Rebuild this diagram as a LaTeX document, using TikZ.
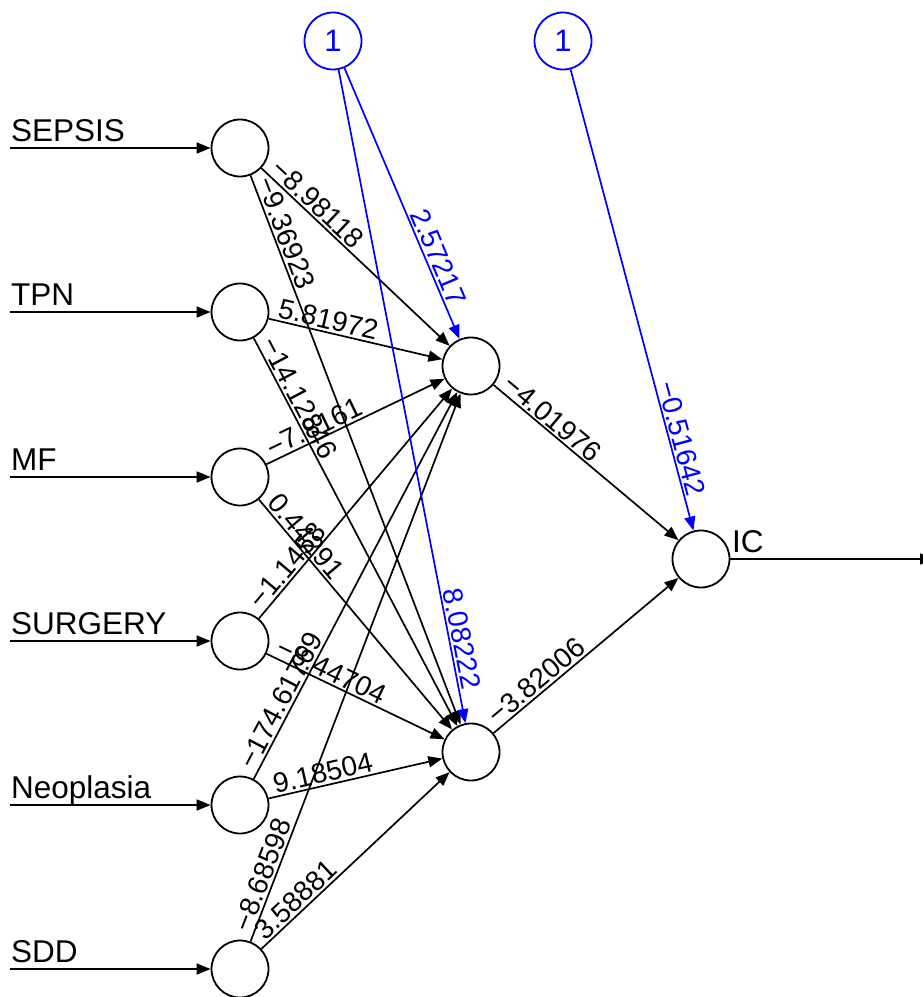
\documentclass[tikz,border=0pt]{standalone}
\usepackage{fontspec}
\setmainfont{Liberation Sans}
\usetikzlibrary{arrows.meta}
\begin{document}
\begin{tikzpicture}[x=1pt,y=-1pt,
  neuron/.style={circle, draw, line width=1.8pt, minimum size=57pt, inner sep=0pt},
  biasnode/.style={neuron, draw=blue, text=blue, font=\fontsize{31}{31}\selectfont},
  conn/.style={line width=1.7pt, -{Triangle[length=14pt,width=11pt]}},
  bconn/.style={conn, draw=blue},
  lab/.style={font=\fontsize{31.5}{31.5}\selectfont, inner sep=0pt},
  wlab/.style={sloped, anchor=south west, inner xsep=7pt, inner ysep=2pt, font=\fontsize{28}{28}\selectfont},
  blab/.style={sloped, anchor=south east, inner xsep=32pt, inner ysep=2pt, font=\fontsize{28}{28}\selectfont, text=blue}]
\useasboundingbox (0,0) rectangle (922,997);

% input neurons
\node[neuron] (i1) at (240,148) {};
\node[neuron] (i2) at (240,312) {};
\node[neuron] (i3) at (240,477) {};
\node[neuron] (i4) at (240,641) {};
\node[neuron] (i5) at (240,805) {};
\node[neuron] (i6) at (240,969) {};
% hidden and output
\node[neuron] (h1) at (471,366) {};
\node[neuron] (h2) at (471,752) {};
\node[neuron] (o) at (701,559) {};
% bias
\node[biasnode] (b1) at (333,41) {1};
\node[biasnode] (b2) at (563,41) {1};

% input lines and labels
\coordinate (s1) at (10,148);
\coordinate (s2) at (10,312);
\coordinate (s3) at (10,477);
\coordinate (s4) at (10,641);
\coordinate (s5) at (10,805);
\coordinate (s6) at (10,969);
\draw[conn] (s1) -- (i1);
\draw[conn] (s2) -- (i2);
\draw[conn] (s3) -- (i3);
\draw[conn] (s4) -- (i4);
\draw[conn] (s5) -- (i5);
\draw[conn] (s6) -- (i6);
\node[lab, anchor=base west] (t1) at (11,141) {SEPSIS};
\node[lab, anchor=base west] (t2) at (11,305) {TPN};
\node[lab, anchor=base west] (t3) at (11,470) {MF};
\node[lab, anchor=base west] (t4) at (11,634) {SURGERY};
\node[lab, anchor=base west] (t5) at (11,798) {Neoplasia};
\node[lab, anchor=base west] (t6) at (11,962) {SDD};

% input to hidden
\draw[conn] (i1) -- (h1) node[wlab, pos=0] {−8.98118};
\draw[conn] (i1) -- (h2) node[wlab, pos=0] {−9.36923};
\draw[conn] (i2) -- (h1) node[wlab, pos=0] {5.81972};
\draw[conn] (i2) -- (h2) node[wlab, pos=0] {−14.12846};
\draw[conn] (i3) -- (h1) node[wlab, pos=0] {−7.8161};
\draw[conn] (i3) -- (h2) node[wlab, pos=0] {0.44291};
\draw[conn] (i4) -- (h1) node[wlab, pos=0] {−1.1458};
\draw[conn] (i4) -- (h2) node[wlab, pos=0] {−8.44704};
\draw[conn] (i5) -- (h1) node[wlab, pos=0] {−174.61769};
\draw[conn] (i5) -- (h2) node[wlab, pos=0] {9.18504};
\draw[conn] (i6) -- (h1) node[wlab, pos=0] {−8.68598};
\draw[conn] (i6) -- (h2) node[wlab, pos=0] {3.58881};

% hidden to output
\draw[conn] (h1) -- (o) node[wlab, pos=0] {−4.01976};
\draw[conn] (h2) -- (o) node[wlab, pos=0] {−3.82006};

% bias connections
\draw[bconn] (b1) -- (h1) node[blab, pos=1] {2.57217};
\draw[bconn] (b1) -- (h2) node[blab, pos=1] {8.08222};
\draw[bconn] (b2) -- (o) node[blab, pos=1] {−0.51642};

% output
\coordinate (oend) at (934,559);
\draw[conn] (o) -- (oend);
\node[lab, anchor=base west] (ic) at (732,552) {IC};
\end{tikzpicture}
\end{document}
